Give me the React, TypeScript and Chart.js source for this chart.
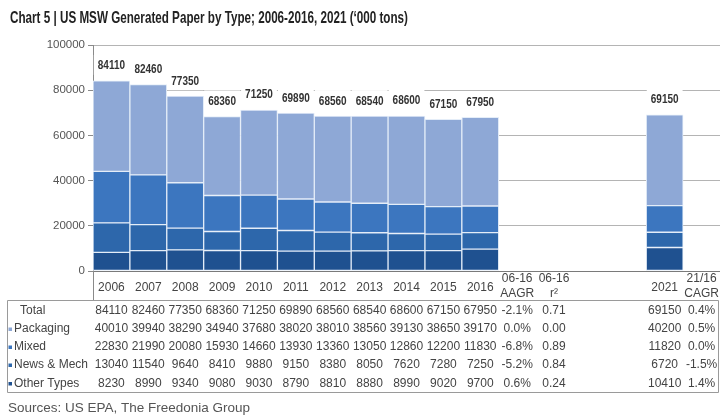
import { useEffect, useRef } from 'react';
import { Chart, registerables } from 'chart.js';
Chart.register(...registerables);

const categories = ['2006', '2007', '2008', '2009', '2010', '2011', '2012', '2013', '2014', '2015', '2016', '06-16 AAGR', '06-16 r2', 'gapA', 'gapB', '2021', '21/16 CAGR'];
const axisLabels: string[][] = [['2006'], ['2007'], ['2008'], ['2009'], ['2010'], ['2011'], ['2012'], ['2013'], ['2014'], ['2015'], ['2016'], ['06-16', 'AAGR'], ['06-16', 'r\u00B2'], [], [], ['2021'], ['21/16', 'CAGR']];
const years = ['2006', '2007', '2008', '2009', '2010', '2011', '2012', '2013', '2014', '2015', '2016', '2021'];
const total = [84110, 82460, 77350, 68360, 71250, 69890, 68560, 68540, 68600, 67150, 67950, 69150];
const packaging = [40010, 39940, 38290, 34940, 37680, 38020, 38010, 38560, 39130, 38650, 39170, 40200];
const mixed = [22830, 21990, 20080, 15930, 14660, 13930, 13360, 13050, 12860, 12200, 11830, 11820];
const newsMech = [13040, 11540, 9640, 8410, 9880, 9150, 8380, 8050, 7620, 7280, 7250, 6720];
const otherTypes = [8230, 8990, 9340, 9080, 9030, 8790, 8810, 8880, 8990, 9020, 9700, 10410];
const aagr = ['-2.1%', '0.0%', '-6.8%', '-5.2%', '0.6%'];
const rSquared = ['0.71', '0.00', '0.89', '0.84', '0.24'];
const cagr = ['0.4%', '0.5%', '0.0%', '-1.5%', '1.4%'];
const rowNames = ['Total', 'Packaging', 'Mixed', 'News & Mech', 'Other Types'];
const yTicks = [0, 20000, 40000, 60000, 80000, 100000];
const titleText = 'Chart 5 | US MSW Generated Paper by Type; 2006-2016, 2021 (\u2018000 tons)';
const sourceText = 'Sources: US EPA, The Freedonia Group';

const COLORS = {
  packaging: '#8ea8d6',
  mixed: '#3c76bf',
  news: '#2d67ab',
  other: '#1f5190',
};

const SANS = "'Liberation Sans', Arial, sans-serif";

function toCats(vals: number[]): (number | null)[] {
  return categories.map((c) => {
    const i = years.indexOf(c);
    return i >= 0 ? vals[i] : null;
  });
}

// draw text compressed horizontally (emulates a narrow font)
function narrowText(ctx: CanvasRenderingContext2D, txt: string, x: number, y: number, sx: number, align: 'left' | 'center') {
  ctx.save();
  ctx.translate(x, y);
  ctx.scale(sx, 1);
  ctx.textAlign = align;
  ctx.fillText(txt, 0, 0);
  ctx.restore();
}

const overlayPlugin = {
  id: 'overlay',
  afterDraw(chart: any) {
    const ctx = chart.ctx as CanvasRenderingContext2D;
    const x = chart.scales.x;
    const y = chart.scales.y;
    const area = chart.chartArea;
    ctx.save();

    // title
    ctx.fillStyle = '#222';
    ctx.font = `bold 16.5px ${SANS}`;
    ctx.textBaseline = 'alphabetic';
    const tw = ctx.measureText(titleText).width;
    narrowText(ctx, titleText, 10, 23, 398 / tw, 'left');

    // total labels with white background
    ctx.font = `bold 12.5px ${SANS}`;
    ctx.textBaseline = 'middle';
    const lsx = 0.8;
    categories.forEach((c, idx) => {
      const i = years.indexOf(c);
      if (i < 0) return;
      const cx = x.getPixelForValue(idx);
      const cy = y.getPixelForValue(total[i]) - 15;
      const txt = String(total[i]);
      const w = ctx.measureText(txt).width * lsx;
      ctx.fillStyle = '#ffffff';
      ctx.fillRect(cx - w / 2 - 4, cy - 11, w + 8, 20);
      ctx.fillStyle = '#333';
      narrowText(ctx, txt, cx, cy, lsx, 'center');
    });

    // axis line extension
    ctx.strokeStyle = '#8a8a8a';
    ctx.lineWidth = 1;
    ctx.beginPath();
    ctx.moveTo(area.left + 0.5, area.bottom);
    ctx.lineTo(area.left + 0.5, 300);
    ctx.stroke();

    // x labels
    ctx.fillStyle = '#444';
    ctx.textAlign = 'center';
    ctx.font = `12px ${SANS}`;
    axisLabels.forEach((lines, idx) => {
      const cx = x.getPixelForValue(idx);
      if (lines.length === 1) ctx.fillText(lines[0], cx, 288);
      else if (lines.length === 2) {
        ctx.fillText(lines[0], cx, 279);
        ctx.fillText(lines[1], cx, 293.5);
      }
    });

    // table borders
    ctx.strokeStyle = '#9a9a9a';
    ctx.beginPath();
    ctx.rect(7.5, 300.5, 711, 92);
    ctx.stroke();

    const rowY = [311, 329, 347, 365, 383.5];
    const rowColors = [null, COLORS.packaging, COLORS.mixed, COLORS.news, COLORS.other];
    const rowData = [total, packaging, mixed, newsMech, otherTypes];
    const aagrIdx = categories.indexOf('06-16 AAGR');
    const r2Idx = categories.indexOf('06-16 r2');
    const cagrIdx = categories.indexOf('21/16 CAGR');
    ctx.font = `12px ${SANS}`;
    rowNames.forEach((name, r) => {
      const ry = rowY[r];
      ctx.textAlign = 'left';
      ctx.fillStyle = '#444';
      if (r === 0) {
        ctx.fillText(name, 20, ry);
      } else {
        ctx.fillStyle = rowColors[r] as string;
        ctx.fillRect(8.5, ry - 1.5, 3.5, 3.5);
        ctx.fillStyle = '#444';
        ctx.fillText(name, 14, ry);
      }
      ctx.textAlign = 'center';
      categories.forEach((c, idx) => {
        const i = years.indexOf(c);
        if (i < 0) return;
        ctx.fillText(String(rowData[r][i]), x.getPixelForValue(idx), ry);
      });
      ctx.fillText(aagr[r], x.getPixelForValue(aagrIdx), ry);
      ctx.fillText(rSquared[r], x.getPixelForValue(r2Idx), ry);
      ctx.fillText(cagr[r], x.getPixelForValue(cagrIdx), ry);
    });

    // sources
    ctx.textAlign = 'left';
    ctx.fillStyle = '#555';
    ctx.font = `13.5px ${SANS}`;
    ctx.fillText(sourceText, 8, 408);

    ctx.restore();
  },
};

export default function App() {
  const ref = useRef<HTMLCanvasElement | null>(null);
  useEffect(() => {
    if (!ref.current) return;
    const mk = (label: string, vals: number[], color: string) => ({
      label,
      data: toCats(vals),
      backgroundColor: color,
      borderColor: '#e4edf8',
      borderWidth: 1,
      borderSkipped: false,
      barPercentage: 1,
      categoryPercentage: 1,
    });
    const chart = new Chart(ref.current, {
      type: 'bar',
      data: {
        labels: categories,
        datasets: [
          mk('Other Types', otherTypes, COLORS.other),
          mk('News & Mech', newsMech, COLORS.news),
          mk('Mixed', mixed, COLORS.mixed),
          mk('Packaging', packaging, COLORS.packaging),
        ],
      },
      options: {
        animation: false,
        responsive: false,
        maintainAspectRatio: false,
        layout: { padding: { top: 45, bottom: 145, left: 0, right: 0 } },
        plugins: { legend: { display: false }, tooltip: { enabled: false } },
        scales: {
          x: { stacked: true, display: false, offset: true },
          y: {
            stacked: true,
            min: 0,
            max: 100000,
            afterFit: (s: any) => { s.width = 93; },
            afterBuildTicks: (s: any) => { s.ticks = yTicks.map((v) => ({ value: v })); },
            border: { display: true, color: '#8a8a8a' },
            grid: {
              color: (c: any) => (c.tick && c.tick.value === 0 ? '#7a7a7a' : '#b4b4b4'),
              tickColor: '#8a8a8a',
              tickLength: 5,
            },
            ticks: {
              padding: 3,
              color: '#555',
              font: { family: SANS, size: 11.5 },
              callback: (v: any) => String(v),
            },
          },
        },
      },
      plugins: [overlayPlugin],
    });
    return () => chart.destroy();
  }, []);
  return (
    <div style={{ position: 'fixed', left: 0, top: 0, width: 720, height: 416, background: '#fff' }}>
      <canvas ref={ref} width={720} height={416} style={{ width: 720, height: 416 }} />
    </div>
  );
}
